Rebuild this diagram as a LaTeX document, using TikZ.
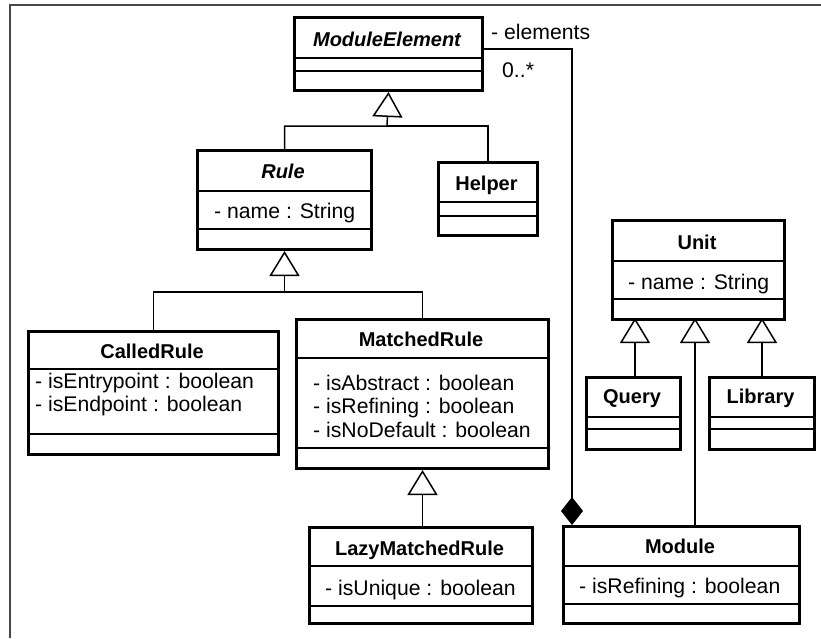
\documentclass[tikz,border=0pt]{standalone}
\usepackage{fontspec}
\setmainfont{Liberation Sans}
\usetikzlibrary{arrows.meta,calc}
\tikzset{
  cls/.style={draw, line width=3pt, inner sep=0pt, anchor=north west, fill=white},
  sepline/.style={line width=1.3pt},
  cname/.style={font=\fontsize{20}{24}\selectfont\bfseries, inner sep=0pt, anchor=base},
  aname/.style={font=\fontsize{20}{24}\selectfont\bfseries\itshape, inner sep=0pt, anchor=base},
  attr/.style={font=\fontsize{21.2}{24}\selectfont, inner sep=0pt, anchor=base west},
  conn/.style={line width=1.5pt},
  gen/.style={conn, -{Triangle[open, length=25pt, width=30pt, line width=1.5pt]}},
  comp/.style={conn, -{Diamond[length=28pt, width=22pt]}},
  frameline/.style={line width=2.5pt, draw=black!72},
}
% name, x1, y1, x2, y2, sep1, sep2
\newcommand\umlclassbox[7]{%
  \node[cls, minimum width={(#4-#2)*1pt}, minimum height={(#5-#3)*1pt}] (#1) at (#2,#3) {};
  \draw[sepline] (#2,#6) -- (#4,#6);
  \draw[sepline] (#2,#7) -- (#4,#7);
}
\begin{document}
\begin{tikzpicture}[x=1pt,y=-1pt]
\useasboundingbox (0,0) rectangle (821,638);
\draw[frameline] (10,638) -- (10,5) -- (821,5);

% classes
\umlclassbox{me}{293}{16}{481}{89}{58}{71}
\node[aname] (meN) at (387,46) {ModuleElement};

\umlclassbox{rule}{196}{149}{370}{248}{191}{229}
\node[aname] (ruleN) at (283,178) {Rule};
\node[attr] (ruleA) at (214,218) {- name : String};

\umlclassbox{helper}{437}{161}{536}{234}{202}{216}
\node[cname] (helperN) at (486.5,190) {Helper};

\umlclassbox{called}{27}{330}{277}{453}{369}{434}
\node[cname] (calledN) at (152,358) {CalledRule};
\node[attr] (calledA1) at (35,388) {- isEntrypoint : boolean};
\node[attr] (calledA2) at (35,411) {- isEndpoint : boolean};

\umlclassbox{matched}{295}{318}{547}{467}{358}{448}
\node[cname] (matchedN) at (421,346) {MatchedRule};
\node[attr] (matchedA1) at (313,390) {- isAbstract : boolean};
\node[attr] (matchedA2) at (313,413.5) {- isRefining : boolean};
\node[attr] (matchedA3) at (313,437) {- isNoDefault : boolean};

\umlclassbox{lazy}{308}{526}{531}{622}{566}{606}
\node[cname] (lazyN) at (419.5,555) {LazyMatchedRule};
\node[attr] (lazyA) at (325,595) {- isUnique : boolean};

\umlclassbox{unit}{611}{219}{783}{318}{261}{299}
\node[cname] (unitN) at (697,249) {Unit};
\node[attr] (unitA) at (628,289) {- name : String};

\umlclassbox{query}{585}{376}{679}{448}{417}{429}
\node[cname] (queryN) at (632,403) {Query};

\umlclassbox{library}{708}{376}{813}{448}{417}{429}
\node[cname] (libraryN) at (760.5,403) {Library};

\umlclassbox{module}{562}{525}{798}{622}{566}{604}
\node[cname] (moduleN) at (680,553) {Module};
\node[attr] (moduleA) at (579,593) {- isRefining : boolean};

% generalizations
\coordinate (j1) at (387,126);
\draw[gen] (rule.north) |- (j1) -- (me.south);
\draw[conn] (helper.north) |- (j1);

\coordinate (j2) at ($(rule.south)+(0,41)$);
\draw[gen] (called.north) |- (j2) -- (rule.south);
\draw[conn] (matched.north) |- (j2);

\draw[gen] (lazy.north -| matched.south) -- (matched.south);

\coordinate (uq) at (635,318);
\coordinate (um) at (695,318);
\coordinate (ul) at (762,318);
\draw[gen] (query.north -| uq) -- (uq);
\draw[gen] (module.north -| um) -- (um);
\draw[gen] (library.north -| ul) -- (ul);

% composition
\coordinate (bend) at (572,49);
\draw[comp] (me.east |- bend) -- (bend) -- (module.north -| bend);
\node[attr] (elemL) at (491,39) {- elements};
\node[attr] (multL) at (502,77) {0..*};
\end{tikzpicture}
\end{document}
